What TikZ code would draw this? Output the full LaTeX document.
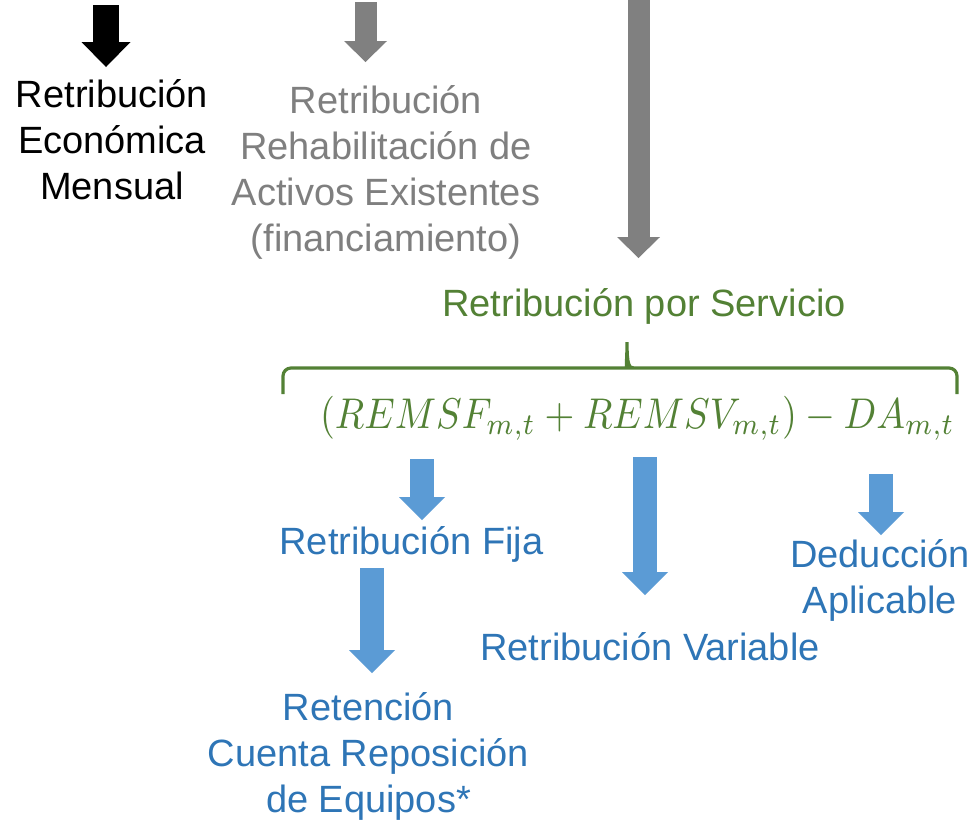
\documentclass[tikz,border=0pt]{standalone}
\usepackage{fontspec}
\setmainfont{Liberation Sans}
\usetikzlibrary{arrows.meta}

\definecolor{blueA}{HTML}{5B9BD5}
\definecolor{blueT}{HTML}{2E75B6}
\definecolor{greenT}{HTML}{538135}
\definecolor{grayA}{HTML}{808080}
\definecolor{grayT}{HTML}{7F7F7F}

\begin{document}
\begin{tikzpicture}[x=0.5pt,y=-0.5pt,
  lbl/.style={align=center,inner sep=0pt,font=\fontsize{19}{23}\selectfont},
  blackarrow/.style={draw=black,line width=13pt,-{Triangle[width=24.5pt,length=12.5pt,line width=0pt]}},
  grayarrow/.style={draw=grayA,line width=11pt,-{Triangle[width=21.5pt,length=10.5pt,line width=0pt]}},
  bluearrow/.style={draw=blueA,line width=12pt,-{Triangle[width=23pt,length=11.5pt,line width=0pt]}},
  brc/.style={draw=greenT,line width=1.6pt}]
  \useasboundingbox (0,0) rectangle (974,821);

  % top row
  \coordinate (eT) at (106,5);    \coordinate (eB) at (106,67);
  \coordinate (rT) at (365.5,2);  \coordinate (rB) at (365.5,62);
  \coordinate (sT) at (638.5,-2); \coordinate (sB) at (638.5,258);
  \draw[blackarrow] (eT) -- (eB);
  \draw[grayarrow] (rT) -- (rB);
  \draw[grayarrow] (sT) -- (sB);

  \node[lbl] (eco) at (112,140) {Retribución\\Económica\\Mensual};
  \node[lbl,text=grayT] (rehab) at (386,172.5) {Retribución\\Rehabilitación de\\Activos Existentes\\(financiamiento)};

  % servicio
  \node[lbl,text=greenT,anchor=base] (servicio) at (644,316) {Retribución por Servicio};
  \draw[brc] (283,394) [rounded corners=4pt] |- (620,368) [sharp corners]
    .. controls (625,368) and (627,365) .. (627,342)
    .. controls (627,365) and (629,368) .. (634,368) [rounded corners=4pt] -| (957,394);
  \node[text=greenT,anchor=base,inner sep=0pt] (formula) at (637.5,428)
    {\scalebox{1.915}[2.15]{$(REMSF_{m,t}+REMSV_{m,t})-DA_{m,t}$}};

  % componentes
  \coordinate (fT) at (422,459); \coordinate (fB) at (422,520);
  \coordinate (vT) at (645,457); \coordinate (vB) at (645,595);
  \coordinate (dT) at (881,474); \coordinate (dB) at (881,535);
  \coordinate (cT) at (372,568); \coordinate (cB) at (372,673);
  \draw[bluearrow] (fT) -- (fB);
  \draw[bluearrow] (vT) -- (vB);
  \draw[bluearrow] (dT) -- (dB);
  \draw[bluearrow] (cT) -- (cB);

  \node[lbl,text=blueT,anchor=base] (fija) at (411.5,554) {Retribución Fija};
  \node[lbl,text=blueT,anchor=base] (variable) at (650,660) {Retribución Variable};
  \node[lbl,text=blueT] (deduccion) at (880,580) {Deducción\\Aplicable};
  \node[lbl,text=blueT] (retencion) at (368.5,756) {Retención\\Cuenta Reposición\\de Equipos*};
\end{tikzpicture}
\end{document}
